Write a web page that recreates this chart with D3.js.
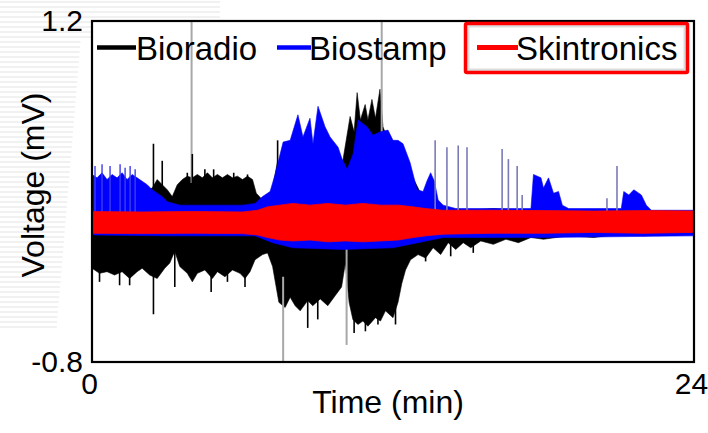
<!DOCTYPE html>
<meta charset="utf-8">
<script src="https://d3js.org/d3.v7.min.js"></script>
<style>
  body { margin: 0; background: #fff; }
  text { font-family: "Liberation Sans", Arial, sans-serif; fill: #000; }
</style>
<body>
<script>
// Axis ticks and legend entries
const xTicks = [0, 24];
const yTicks = [-0.8, 1.2];
const seriesNames = ["Bioradio", "Biostamp", "Skintronics"];

// Bioradio (black): envelope of the trace, [time (min), mV]
const bioradioUpper = [
  [0, 0.20], [0.5, 0.22], [1.0, 0.20], [1.5, 0.22], [2.0, 0.20], [2.4, 0.22], [2.6, 0.27], [2.8, 0.24],
  [3.0, 0.21], [3.2, 0.17], [3.4, 0.24], [3.6, 0.27], [3.8, 0.29], [4.0, 0.28], [4.2, 0.30], [4.4, 0.28],
  [4.6, 0.31], [4.8, 0.28], [5.0, 0.30], [5.2, 0.28], [5.4, 0.30], [5.6, 0.28], [5.8, 0.29], [6.0, 0.27],
  [6.2, 0.29], [6.4, 0.27], [6.55, 0.19], [6.8, 0.15], [7.0, 0.16], [7.2, 0.22], [7.4, 0.38], [7.55, 0.30],
  [7.8, 0.33], [8.4, 0.38], [9.0, 0.40], [9.6, 0.38], [10.0, 0.38], [10.29, 0.64], [10.45, 0.55],
  [10.57, 0.78], [10.7, 0.62], [10.89, 0.71], [11.0, 0.62], [11.16, 0.74], [11.3, 0.63], [11.48, 0.80],
  [11.6, 0.58], [11.8, 0.50], [12.0, 0.45], [12.3, 0.40], [12.6, 0.33], [12.9, 0.25], [13.2, 0.16],
  [13.5, 0.12], [14.0, 0.10], [15.0, 0.09], [16.0, 0.10], [17.0, 0.09], [18.0, 0.09], [19.0, 0.08],
  [20.0, 0.09], [21.0, 0.08], [22.0, 0.08], [23.0, 0.08], [24.0, 0.08]
];
const bioradioLower = [
  [0, -0.25], [0.3, -0.28], [0.6, -0.27], [0.9, -0.29], [1.2, -0.27], [1.5, -0.31], [1.8, -0.27],
  [2.0, -0.25], [2.3, -0.29], [2.6, -0.31], [2.9, -0.25], [3.1, -0.22], [3.3, -0.15], [3.5, -0.24],
  [3.8, -0.28], [4.0, -0.33], [4.2, -0.28], [4.5, -0.26], [4.8, -0.31], [5.0, -0.27], [5.3, -0.30],
  [5.6, -0.26], [5.9, -0.28], [6.1, -0.31], [6.3, -0.27], [6.5, -0.20], [6.8, -0.17], [7.0, -0.16],
  [7.2, -0.24], [7.45, -0.45], [7.7, -0.48], [7.9, -0.42], [8.1, -0.47], [8.3, -0.50], [8.6, -0.44],
  [8.8, -0.47], [9.1, -0.43], [9.4, -0.47], [9.7, -0.41], [9.95, -0.36], [10.1, -0.22], [10.25, -0.45],
  [10.4, -0.55], [10.6, -0.58], [10.8, -0.56], [11.0, -0.59], [11.3, -0.54], [11.5, -0.56],
  [11.7, -0.50], [12.0, -0.54], [12.2, -0.45], [12.35, -0.34], [12.5, -0.26], [12.7, -0.20],
  [13.0, -0.17], [13.3, -0.19], [13.6, -0.13], [13.9, -0.17], [14.2, -0.10], [14.5, -0.14],
  [14.8, -0.10], [15.1, -0.13], [15.5, -0.09], [16.0, -0.11], [16.5, -0.08], [17.0, -0.10],
  [17.5, -0.07], [18.0, -0.08], [19.0, -0.06], [20.0, -0.07], [21.0, -0.05], [22.0, -0.06],
  [23.0, -0.05], [24.0, -0.05]
];
// Bioradio spikes: [time, from mV, to mV]
const bioradioSpikes = [
  [2.45, 0.15, 0.48], [2.45, -0.52, -0.2], [2.8, 0.15, 0.38], [3.8, 0.2, 0.31], [4.0, 0.2, 0.42],
  [4.5, 0.2, 0.33], [4.85, 0.2, 0.33], [5.65, 0.2, 0.31], [6.2, 0.2, 0.30], [7.4, 0.2, 0.50],
  [0.3, -0.33, -0.2], [1.1, -0.35, -0.2], [1.5, -0.35, -0.2], [3.3, -0.36, -0.1], [4.75, -0.39, -0.2],
  [5.4, -0.33, -0.2], [6.1, -0.36, -0.2],
  [8.6, -0.60, -0.3], [9.0, -0.55, -0.3], [10.45, -0.63, -0.3], [10.9, -0.62, -0.3], [11.4, -0.58, -0.3],
  [12.1, -0.58, -0.3], [13.3, -0.21, -0.1], [14.3, -0.18, -0.08], [15.2, -0.16, -0.08]
];
// faint grey artefact lines in the Bioradio record
const artefactLines = [
  [3.97, 0.25, 1.2], [7.62, -0.30, -0.8], [10.15, -0.10, -0.70], [11.55, 0.50, 1.2]
];

// Biostamp (blue)
const biostampUpper = [
  [0, 0.30], [0.2, 0.28], [0.4, 0.31], [0.6, 0.27], [0.8, 0.30], [1.0, 0.28], [1.2, 0.31], [1.4, 0.27],
  [1.6, 0.30], [1.8, 0.28], [2.0, 0.26], [2.2, 0.24], [2.4, 0.21], [2.6, 0.19], [2.8, 0.17], [3.0, 0.14],
  [3.5, 0.12], [4.0, 0.12], [5.0, 0.12], [6.0, 0.12], [6.5, 0.13], [6.8, 0.17], [7.1, 0.20], [7.3, 0.30],
  [7.62, 0.49], [7.9, 0.50], [8.21, 0.65], [8.41, 0.52], [8.69, 0.63], [8.81, 0.48], [9.01, 0.70],
  [9.29, 0.58], [9.49, 0.52], [9.81, 0.46], [9.97, 0.39], [10.17, 0.33], [10.41, 0.42], [10.61, 0.62],
  [10.96, 0.58], [11.2, 0.53], [11.5, 0.55], [11.8, 0.56], [12.0, 0.50], [12.2, 0.50], [12.4, 0.48],
  [12.68, 0.37], [12.96, 0.21], [13.2, 0.20], [13.35, 0.26], [13.5, 0.31], [13.65, 0.26],
  [13.8, 0.15], [14.0, 0.12], [14.5, 0.10], [15.0, 0.10], [16.0, 0.10], [17.0, 0.10], [17.5, 0.10],
  [17.6, 0.30], [17.9, 0.28], [18.0, 0.22], [18.2, 0.28], [18.4, 0.19], [18.6, 0.20], [18.75, 0.12],
  [19.0, 0.10], [20.0, 0.10], [21.1, 0.10], [21.2, 0.20], [21.4, 0.18], [21.6, 0.21], [21.9, 0.18],
  [22.1, 0.12], [22.3, 0.09], [23.0, 0.09], [24.0, 0.09]
];
const biostampLower = [
  [0, -0.055], [3.0, -0.06], [6.5, -0.06], [7.2, -0.10], [8.0, -0.13], [10.0, -0.14], [12.0, -0.13],
  [13.0, -0.10], [14.0, -0.07], [18.0, -0.07], [24.0, -0.06]
];
const biostampSpikes = [
  [0.12, 0.05, 0.35], [0.4, 0.05, 0.36], [0.72, 0.05, 0.35], [1.12, 0.05, 0.36], [1.32, 0.05, 0.34],
  [1.52, 0.05, 0.35], [1.72, 0.05, 0.33],
  [13.68, 0.05, 0.50], [14.15, 0.05, 0.46], [14.6, 0.05, 0.47], [14.95, 0.05, 0.46], [16.35, 0.05, 0.45],
  [16.6, 0.05, 0.39], [16.95, 0.05, 0.35], [17.15, 0.05, 0.18], [20.53, 0.05, 0.16], [20.93, 0.05, 0.35]
];

// Skintronics (red)
const skintronicsUpper = [
  [0, 0.082], [2.0, 0.08], [4.0, 0.083], [6.0, 0.08], [6.6, 0.09], [7.0, 0.11], [7.5, 0.12],
  [8.0, 0.13], [8.7, 0.12], [9.4, 0.13], [10.1, 0.12], [10.8, 0.13], [11.5, 0.12], [12.2, 0.12],
  [12.8, 0.11], [13.3, 0.10], [14.0, 0.09], [16.0, 0.09], [18.0, 0.088], [20.0, 0.085], [22.0, 0.088],
  [24.0, 0.085]
];
const skintronicsLower = [
  [0, -0.045], [2.0, -0.047], [4.0, -0.045], [6.0, -0.047], [6.6, -0.055], [7.0, -0.07], [7.5, -0.085],
  [8.0, -0.09], [8.7, -0.085], [9.4, -0.095], [10.1, -0.09], [10.8, -0.095], [11.5, -0.09],
  [12.2, -0.085], [12.8, -0.07], [13.3, -0.06], [14.0, -0.05], [16.0, -0.045], [18.0, -0.045],
  [20.0, -0.04], [22.0, -0.045], [24.0, -0.04]
];

const colors = {Bioradio: "#000", Biostamp: "#0000ff", Skintronics: "#ff0000"};

const W = 708, H = 433;
const margin = {top: 21, right: 14, bottom: 71, left: 92};
const width = W - margin.left - margin.right,
      height = H - margin.top - margin.bottom;

const svg = d3.select("body").append("svg")
    .attr("width", W)
    .attr("height", H);

// faint striped background on the left, like the slide it was cut from
svg.append("g").selectAll("line")
  .data(d3.range(2, 330, 5))
  .join("line")
    .attr("x1", 0).attr("x2", d => d < 40 ? 220 : 84 - d / 12)
    .attr("y1", d => d).attr("y2", d => d)
    .attr("stroke", "#f1f1f1").attr("stroke-width", 2);

const g = svg.append("g")
    .attr("transform", `translate(${margin.left},${margin.top})`);

g.append("rect").attr("width", width).attr("height", height).attr("fill", "#fff");

const x = d3.scaleLinear().domain([0, 24]).range([0, width]);
const y = d3.scaleLinear().domain([-0.8, 1.2]).range([height, 0]);

const line = d3.line().x(d => x(d[0])).y(d => y(d[1]));
const band = (upper, lower) => line(upper.concat(lower.slice().reverse())) + "Z";

const plot = g.append("g");

function spikes(data, cls, color, w) {
  plot.selectAll("." + cls).data(data).join("line").attr("class", cls)
      .attr("x1", d => x(d[0])).attr("x2", d => x(d[0]))
      .attr("y1", d => y(d[1])).attr("y2", d => y(d[2]))
      .attr("stroke", color).attr("stroke-width", w);
}

// Bioradio
plot.append("path").attr("d", band(bioradioUpper, bioradioLower)).attr("fill", colors.Bioradio)
    .attr("stroke", colors.Bioradio).attr("stroke-width", 0.6).attr("stroke-linejoin", "bevel");
spikes(artefactLines, "art", "#a8a8a8", 2);
spikes(bioradioSpikes, "bspike", "#000", 1.6);

// Biostamp
plot.append("path").attr("d", band(biostampUpper, biostampLower)).attr("fill", colors.Biostamp)
    .attr("stroke", colors.Biostamp).attr("stroke-width", 0.6).attr("stroke-linejoin", "bevel");
spikes(biostampSpikes.filter(d => d[0] < 3), "sspikeL", "#3c3cf0", 1.4);
spikes(biostampSpikes.filter(d => d[0] > 3), "sspikeR", "#7a7ab8", 1.6);

// Skintronics
plot.append("path").attr("d", band(skintronicsUpper, skintronicsLower)).attr("fill", colors.Skintronics)
    .attr("stroke", colors.Skintronics).attr("stroke-width", 0.8);

// frame
g.append("rect").attr("width", width).attr("height", height)
    .attr("fill", "none").attr("stroke", "#000").attr("stroke-width", 2.2);

// axes
const xAxis = g.append("g").attr("transform", `translate(0,${height})`)
    .call(d3.axisBottom(x).tickValues(xTicks).tickSize(0).tickPadding(11));
xAxis.select(".domain").remove();
xAxis.selectAll("text").attr("dx", -3).style("font-size", "30px")
    .style("font-family", "Liberation Sans, Arial, sans-serif");

const yAxis = g.append("g")
    .call(d3.axisLeft(y).tickValues(yTicks).tickSize(0).tickPadding(9).tickFormat(d => d.toFixed(1)));
yAxis.select(".domain").remove();
yAxis.selectAll("text").style("font-size", "30px")
    .style("font-family", "Liberation Sans, Arial, sans-serif");

svg.append("text")
    .attr("x", margin.left + width / 2 - 5).attr("y", 413)
    .attr("text-anchor", "middle").style("font-size", "32px")
    .text("Time (min)");

svg.append("text")
    .attr("transform", `translate(44,185) rotate(-90)`)
    .attr("text-anchor", "middle").style("font-size", "32px")
    .text("Voltage (mV)");

// legend
const legendPos = [
  {x1: 97, x2: 136, tx: 136},
  {x1: 277, x2: 311, tx: 309},
  {x1: 477, x2: 518, tx: 516}
];
const legend = svg.append("g");

// highlight box around Skintronics
legend.append("rect")
    .attr("x", 468).attr("y", 26).attr("width", 217).attr("height", 44)
    .attr("fill", "none").attr("stroke", "#dcdcdc").attr("stroke-width", 3);
legend.append("rect")
    .attr("x", 465.5).attr("y", 23.5).attr("width", 222).attr("height", 49)
    .attr("fill", "none").attr("stroke", "#ff0000").attr("stroke-width", 3.5).attr("rx", 1.5);

seriesNames.forEach((name, i) => {
  const p = legendPos[i];
  legend.append("line")
      .attr("x1", p.x1).attr("x2", p.x2).attr("y1", 47.5).attr("y2", 47.5)
      .attr("stroke", colors[name]).attr("stroke-width", name === "Skintronics" ? 5 : 4.5);
  legend.append("text")
      .attr("x", p.tx).attr("y", 60)
      .style("font-size", "33px")
      .text(name);
});
</script>
</body>
</html>
